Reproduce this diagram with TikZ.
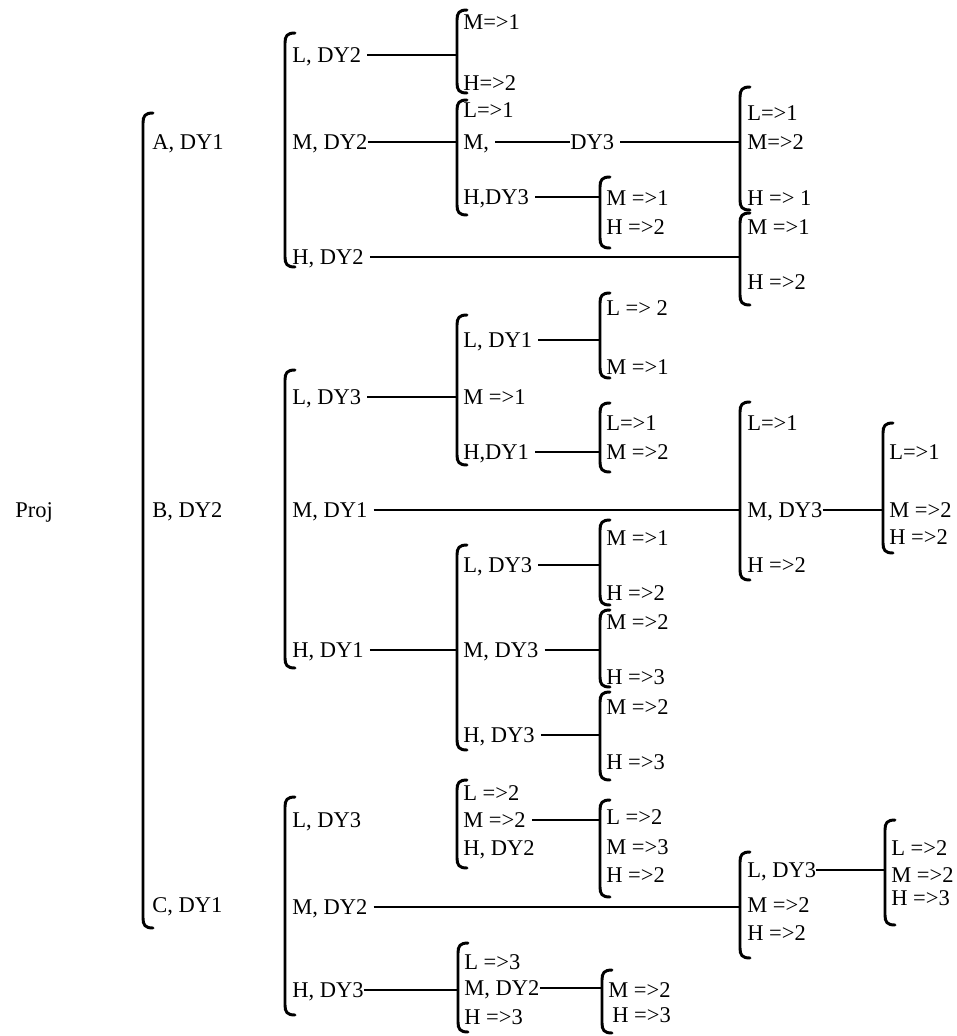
\documentclass[tikz,border=0pt]{standalone}
\usepackage{fontspec}
\setmainfont{Liberation Serif}

% graffa aperta: nome, x, y alto, y basso
\newcommand{\graffa}[4]{%
  \coordinate (#1) at (#2,{(#3+#4)/2});
  \draw[graffa] ({#2+10},#3) .. controls ({#2+2},#3) and (#2,{#3+3}) .. (#2,{#3+10})
    -- (#2,{#4-10}) .. controls (#2,{#4-3}) and ({#2+2},#4) .. ({#2+10},#4);
}

\begin{document}
\begin{tikzpicture}[
  x=0.25mm, y=-0.25mm,
  font=\fontsize{16}{19}\selectfont,
  voce/.style={anchor=west, inner sep=0pt, text height=3.7mm, text depth=0pt},
  graffa/.style={draw=black, line width=2.1pt, line cap=round},
  ramo/.style={draw=black, line width=1.9pt, shorten <=1.5mm}
]
\useasboundingbox (0,0) rectangle (956,1036);

% ---- radice e primo livello ----------------------------------------
\node[voce] (proj) at (15,510) {Proj};
\graffa{g1}{143}{113}{928}
\node[voce] (a) at (152,142) {A, DY1};
\node[voce] (b) at (152,510) {B, DY2};
\node[voce] (c) at (152,905) {C, DY1};

% ---- secondo livello -----------------------------------------------
\graffa{g2a}{285}{33}{267}
\node[voce] (al) at (292,55)  {L, DY2};
\node[voce] (am) at (292,142) {M, DY2};
\node[voce] (ah) at (292,257) {H, DY2};

\graffa{g2b}{285}{370}{668}
\node[voce] (bl) at (292,397) {L, DY3};
\node[voce] (bm) at (292,510) {M, DY1};
\node[voce] (bh) at (292,650) {H, DY1};

\graffa{g2c}{285}{797}{1015}
\node[voce] (cl) at (292,820) {L, DY3};
\node[voce] (cm) at (292,907) {M, DY2};
\node[voce] (ch) at (292,990) {H, DY3};

% ---- terzo livello -------------------------------------------------
\graffa{g3al}{457}{10}{93}
\node[voce] (g3al-1) at (463,22) {M=>1};
\node[voce] (g3al-2) at (463,83) {H=>2};

\graffa{g3am}{457}{100}{215}
\node[voce] (g3am-1) at (463,110) {L=>1};
\node[voce] (amm) at (463,142) {M,};
\node[voce] (amh) at (463,197) {H,DY3};
\node[voce] (dy3) at (570,142) {DY3};

\graffa{g3bl}{457}{315}{465}
\node[voce] (bll) at (463,340) {L, DY1};
\node[voce] (g3bl-1) at (463,397) {M =>1};
\node[voce] (blh) at (463,452) {H,DY1};

\graffa{g3bh}{457}{545}{750}
\node[voce] (bhl) at (463,565) {L, DY3};
\node[voce] (bhm) at (463,650) {M, DY3};
\node[voce] (bhh) at (463,735) {H, DY3};

\graffa{g3cl}{457}{780}{868}
\node[voce] (g3cl-1) at (463,793) {L =>2};
\node[voce] (clm) at (463,820) {M =>2};
\node[voce] (g3cl-2) at (463,848) {H, DY2};

\graffa{g3ch}{458}{943}{1032}
\node[voce] (g3ch-1) at (464,962) {L =>3};
\node[voce] (chm) at (464,988) {M, DY2};
\node[voce] (g3ch-2) at (464,1017) {H =>3};

% ---- quarto livello ------------------------------------------------
\graffa{g4amh}{600}{177}{248}
\node[voce] (g4amh-1) at (606,198) {M =>1};
\node[voce] (g4amh-2) at (606,227) {H =>2};

\graffa{g4bll}{600}{293}{378}
\node[voce] (g4bll-1) at (606,308) {L => 2};
\node[voce] (g4bll-2) at (606,367) {M =>1};

\graffa{g4blh}{600}{403}{472}
\node[voce] (g4blh-1) at (606,423) {L=>1};
\node[voce] (g4blh-2) at (606,452) {M =>2};

\graffa{g4bhl}{600}{520}{605}
\node[voce] (g4bhl-1) at (606,538) {M =>1};
\node[voce] (g4bhl-2) at (606,593) {H =>2};

\graffa{g4bhm}{600}{610}{687}
\node[voce] (g4bhm-1) at (606,622) {M =>2};
\node[voce] (g4bhm-2) at (606,677) {H =>3};

\graffa{g4bhh}{600}{692}{780}
\node[voce] (g4bhh-1) at (606,707) {M =>2};
\node[voce] (g4bhh-2) at (606,762) {H =>3};

\graffa{g4clm}{600}{800}{897}
\node[voce] (g4clm-1) at (606,817) {L =>2};
\node[voce] (g4clm-2) at (606,847) {M =>3};
\node[voce] (g4clm-3) at (606,875) {H =>2};

\graffa{g4chm}{602}{970}{1033}
\node[voce] (g4chm-1) at (608,990) {M =>2};
\node[voce] (g4chm-2) at (612,1015) {H =>3};

% ---- quinto e sesto livello ----------------------------------------
\graffa{g5a}{740}{87}{210}
\node[voce] (g5a-1) at (747,113) {L=>1};
\node[voce] (g5a-2) at (747,142) {M=>2};
\node[voce] (g5a-3) at (747,198) {H => 1};

\graffa{g5ah}{740}{213}{305}
\node[voce] (g5ah-1) at (747,227) {M =>1};
\node[voce] (g5ah-2) at (747,282) {H =>2};

\graffa{g5bm}{740}{402}{580}
\node[voce] (g5bm-1) at (747,423) {L=>1};
\node[voce] (bmm) at (747,510) {M, DY3};
\node[voce] (g5bm-2) at (747,565) {H =>2};

\graffa{g5cm}{740}{852}{958}
\node[voce] (cml) at (747,870) {L, DY3};
\node[voce] (g5cm-1) at (747,905) {M =>2};
\node[voce] (g5cm-2) at (747,933) {H =>2};

\graffa{g6bmm}{883}{423}{553}
\node[voce] (g6bmm-1) at (889,452) {L=>1};
\node[voce] (g6bmm-2) at (889,510) {M =>2};
\node[voce] (g6bmm-3) at (889,537) {H =>2};

\graffa{g6cml}{885}{820}{925}
\node[voce] (g6cml-1) at (891,848) {L =>2};
\node[voce] (g6cml-2) at (891,875) {M =>2};
\node[voce] (g6cml-3) at (891,898) {H =>3};

% ---- rami ----------------------------------------------------------
\draw[ramo] (al.east)  -- (al.east -| g3al);
\draw[ramo, shorten <=0pt] (am.east) -- (am.east -| g3am);
\draw[ramo] (ah.east)  -- (ah.east -| g5ah);
\draw[ramo, line width=1.2pt] (amm.east) -- (dy3.west);
\draw[ramo] (dy3.east) -- (dy3.east -| g5a);
\draw[ramo] (amh.east) -- (amh.east -| g4amh);
\draw[ramo] (bl.east)  -- (bl.east -| g3bl);
\draw[ramo] (bm.east)  -- (bm.east -| g5bm);
\draw[ramo] (bh.east)  -- (bh.east -| g3bh);
\draw[ramo] (bll.east) -- (bll.east -| g4bll);
\draw[ramo] (blh.east) -- (blh.east -| g4blh);
\draw[ramo] (bhl.east) -- (bhl.east -| g4bhl);
\draw[ramo] (bhm.east) -- (bhm.east -| g4bhm);
\draw[ramo] (bhh.east) -- (bhh.east -| g4bhh);
\draw[ramo, shorten <=0pt] (bmm.east) -- (bmm.east -| g6bmm);
\draw[ramo] (clm.east) -- (clm.east -| g4clm);
\draw[ramo] (cm.east)  -- (cm.east -| g5cm);
\draw[ramo, shorten <=0pt] (ch.east) -- (ch.east -| g3ch);
\draw[ramo, shorten <=0pt] (chm.east) -- (chm.east -| g4chm);
\draw[ramo, shorten <=0pt] (cml.east) -- (cml.east -| g6cml);

\end{tikzpicture}
\end{document}
